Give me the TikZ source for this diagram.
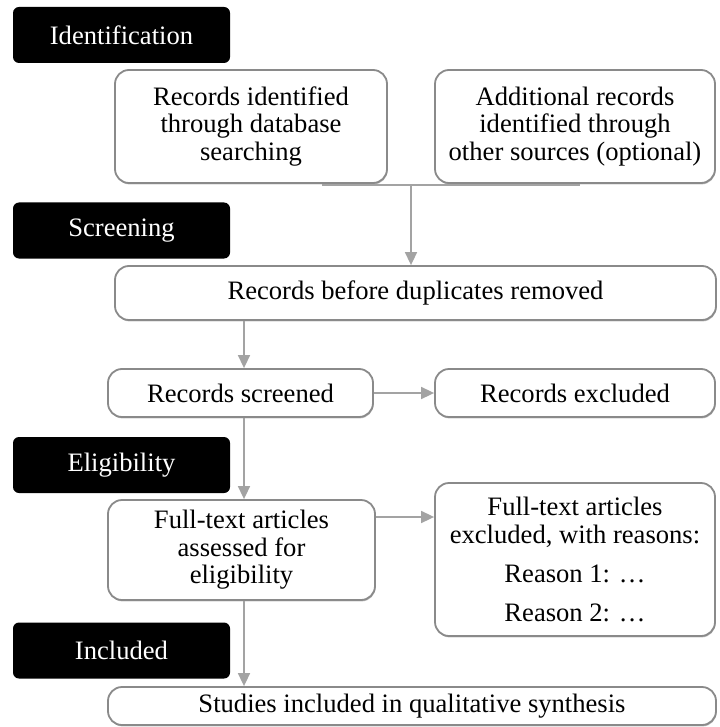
\documentclass[tikz,border=0pt]{standalone}
\usepackage{fontspec}
\setmainfont{Liberation Serif}
\usetikzlibrary{arrows.meta,shadows}

\definecolor{boxgray}{HTML}{8A8A8A}
\definecolor{linkgray}{HTML}{A3A3A3}

\tikzset{
  textsize/.style={font=\fontsize{13.3}{13.75}\selectfont},
  stage/.style={textsize, fill=black, text=white, rounded corners=3pt,
    minimum width=108.5pt, minimum height=28pt, inner sep=0pt},
  box/.style={textsize, draw=boxgray, line width=0.9pt, fill=white,
    rounded corners=7pt, align=center, inner sep=0pt,
    drop shadow={shadow xshift=0.3pt, shadow yshift=-0.7pt, fill=black!45, opacity=0.6}},
  link/.style={draw=linkgray, line width=0.8pt},
  flow/.style={link, -{Triangle[length=6.5pt,width=6pt]}},
}

\begin{document}
\begin{tikzpicture}[x=0.5pt, y=-0.5pt]
\useasboundingbox (0,0) rectangle (719,727);

% phase labels on the left
\node[stage] (tabI) at (121.5,35)  {Identification};
\node[stage] (tabS) at (121.5,230.5) {Screening};
\node[stage] (tabE) at (121.5,465) {Eligibility};
\node[stage] (tabN) at (121.5,650.5) {Included};

% flow boxes
\node[box, minimum width=136pt, minimum height=56.5pt] (boxA) at (251,126.5)
  {Records identified\\through database\\searching};
\node[box, minimum width=140pt, minimum height=56.5pt] (boxB) at (575,126.5)
  {Additional records\\identified through\\other sources (optional)};
\node[box, minimum width=300.5pt, minimum height=27pt] (boxC) at (415.5,293)
  {Records before duplicates removed};
\node[box, minimum width=132.5pt, minimum height=24pt] (screened) at (240.5,393)
  {Records screened};
\node[box, minimum width=140pt, minimum height=24pt] (excl) at (575,393)
  {Records excluded};
\node[box, minimum width=133.5pt, minimum height=50pt] (assess) at (241.5,550)
  {Full-text articles\\assessed for\\eligibility};
\node[box, minimum width=140pt, minimum height=76.5pt] (reasons) at (575,559.5)
  {Full-text articles\\excluded, with reasons:\\[6pt]Reason 1: …\\[5.5pt]Reason 2: …};
\node[box, minimum width=304pt, minimum height=19pt] (studies) at (412,706)
  {Studies included in qualitative synthesis};

% junction under the two source boxes
\coordinate (jl) at (322,185);
\coordinate (jr) at (580,185);
\coordinate (jm) at (411,185);
\draw[link] (jl) -- (jr);
\draw[flow] (jm) -- (boxC.north -| jm);

% main column of arrows
\coordinate (col) at (244,0);
\draw[flow] (boxC.south -| col) -- (screened.north -| col);
\draw[flow] (screened.south -| col) -- (assess.north -| col);
\draw[flow] (assess.south -| col) -- (studies.north -| col);

% exclusions to the right
\draw[flow] (screened.east) -- (excl.west);
\coordinate (r2) at (0,517);
\draw[flow] (assess.east |- r2) -- (reasons.west |- r2);
\end{tikzpicture}
\end{document}
